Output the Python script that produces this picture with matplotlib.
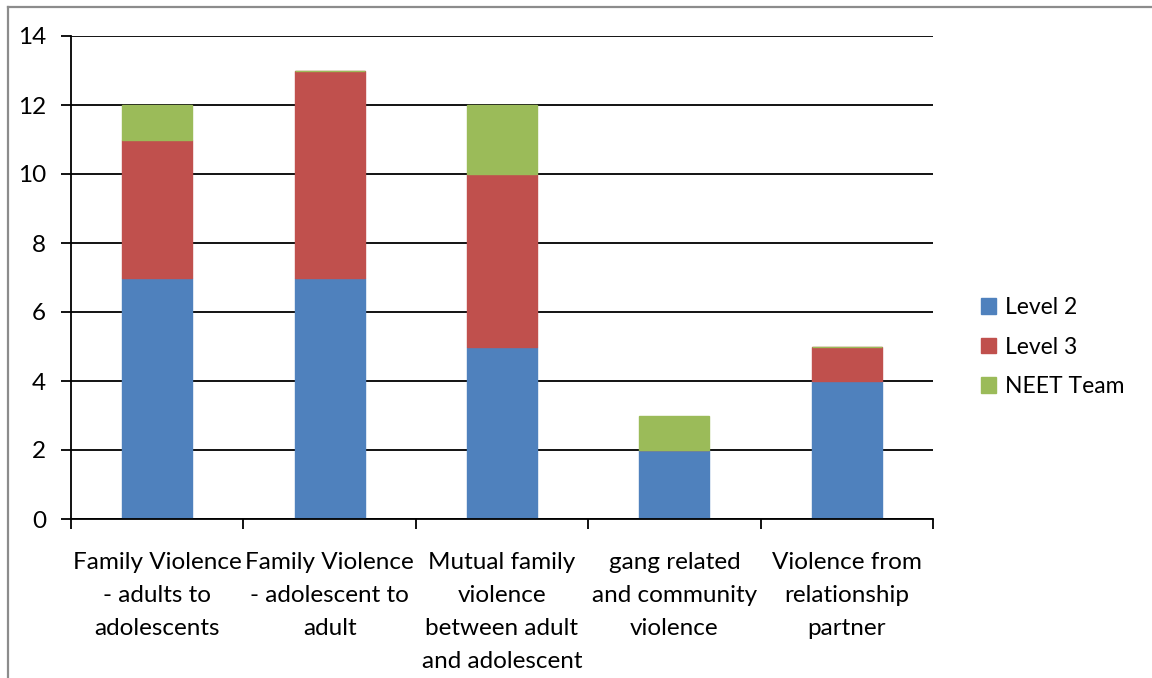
import matplotlib
matplotlib.use("Agg")
import matplotlib.pyplot as plt
from matplotlib.lines import Line2D
from matplotlib.patches import Patch
import numpy as np

categories = [
    "Family Violence\n- adults to\nadolescents",
    "Family Violence\n- adolescent to\nadult",
    "Mutual family\nviolence\nbetween adult\nand adolescent",
    "gang related\nand community\nviolence",
    "Violence from\nrelationship\npartner",
]
series_names = ["Level 2", "Level 3", "NEET Team"]
level2 = [7, 7, 5, 2, 4]
level3 = [4, 6, 5, 0, 1]
neet = [1, 0, 2, 1, 0]
colors = ["#4F81BD", "#C0504D", "#9BBB59"]
yticks = [0, 2, 4, 6, 8, 10, 12, 14]

plt.rcParams['font.family'] = ['Lato', 'DejaVu Sans']

W, H = 1152, 678
fig = plt.figure(figsize=(W / 100, H / 100), dpi=100)
ax = fig.add_axes([71 / W, 1 - 519 / H, (933 - 71) / W, (519 - 36) / H])

x = np.arange(len(categories))
bottom = np.zeros(len(categories))
for vals, c in zip([level2, level3, neet], colors):
    ax.bar(x, vals, width=0.406, bottom=bottom, color=c, edgecolor=c,
           linewidth=1.0, zorder=3)
    bottom = bottom + np.array(vals)

ax.set_xlim(-0.5, len(categories) - 0.5)
ax.set_ylim(0, 14)
ax.set_yticks(yticks)
ax.set_yticklabels([str(v) for v in yticks], fontsize=17.5)
ax.yaxis.grid(True, color="black", linewidth=1.3, zorder=1)
ax.set_axisbelow(True)

ax.set_xticks(np.arange(-0.5, len(categories)), minor=False)
ax.set_xticklabels([""] * (len(categories) + 1))
ax.set_xticks(x, minor=True)
ax.set_xticklabels(categories, minor=True, fontsize=17.5, linespacing=1.71)
ax.tick_params(axis="x", which="minor", length=0, pad=23.5)
ax.tick_params(axis="x", which="major", length=7, width=1.3, color="black")
ax.tick_params(axis="y", length=7, width=1.3, pad=11, color="black")

for s in ["top", "right"]:
    ax.spines[s].set_visible(False)
for s in ["left", "bottom"]:
    ax.spines[s].set_linewidth(1.3)
    ax.spines[s].set_color("black")
    ax.spines[s].set_zorder(4)

handles = [Patch(facecolor=c, edgecolor=c) for c in colors]
fig.legend(handles, series_names, loc="center left",
           bbox_to_anchor=(960 / W, 1 - 347 / H), frameon=False,
           fontsize=16.5, handlelength=0.68, handleheight=0.68,
           handletextpad=0.4, labelspacing=0.8)

# figure border (gray, top and left visible)
fig.add_artist(Line2D([7.5 / W, 7.5 / W], [0, 1 - 6.5 / H], transform=fig.transFigure,
                      color="#8c8c8c", linewidth=1.6))
fig.add_artist(Line2D([7.5 / W, 1], [1 - 6.5 / H, 1 - 6.5 / H], transform=fig.transFigure,
                      color="#8c8c8c", linewidth=1.6))

fig.savefig("out.png", dpi=100)
